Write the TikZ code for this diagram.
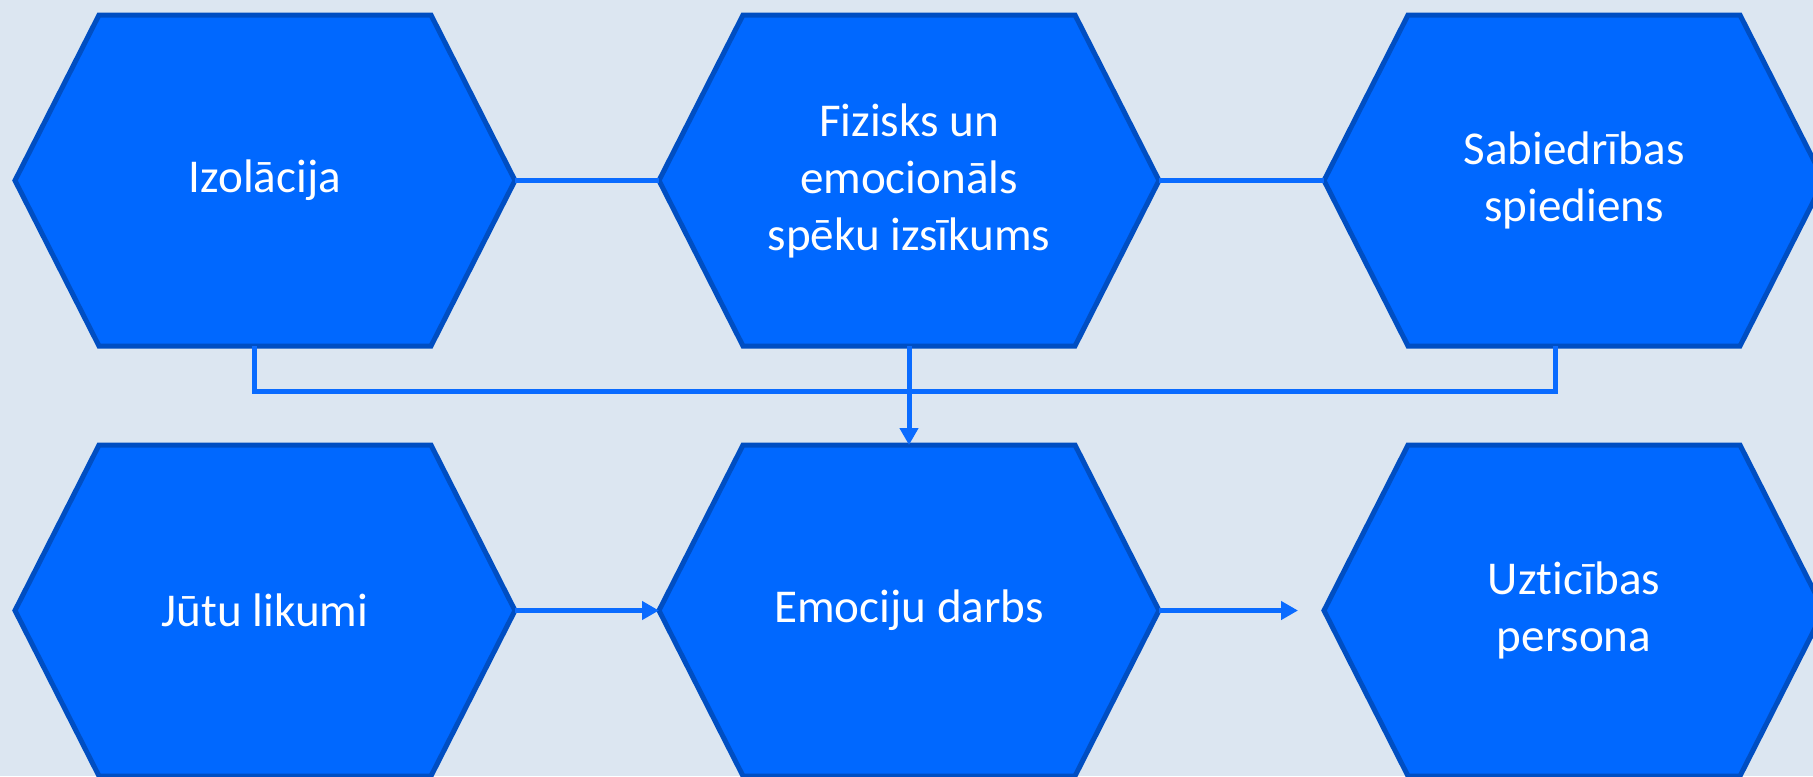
\documentclass[tikz,border=0pt]{standalone}
\usepackage{fontspec}
\setmainfont{Carlito}[Ligatures=CommonOff]
\usetikzlibrary{positioning,backgrounds,arrows.meta}
\definecolor{bgcol}{HTML}{DCE6F1}
\definecolor{hexfill}{HTML}{0068FF}
\definecolor{hexline}{HTML}{004EC2}
\definecolor{linkcol}{HTML}{0A6BFF}

\begin{document}
\begin{tikzpicture}[hexnode/.style={minimum width=5cm, minimum height=3.31cm, inner sep=0pt, outer sep=0pt, align=center, text=white, font=\fontsize{13.4}{16.2}\selectfont},hexshape/.style={fill=hexfill, draw=hexline, line width=0.05cm},link/.style={draw=linkcol, line width=0.05cm},arrowlink/.style={link, -{Triangle[length=0.17cm,width=0.18cm]}}]
\useasboundingbox (0,0) rectangle (18.13,-7.76);
\node[hexnode] (izo) at (2.65,-1.805) {Izolācija};
\node[hexnode, right=1.44cm of izo] (fiz) {Fizisks un\\emocionāls\\spēku izsīkums};
\node[hexnode, right=1.65cm of fiz] (sab) {Sabiedrības\\spiediens};
\node[hexnode, below=0.99cm of izo] (jut) {Jūtu likumi};
\node[hexnode, below=0.99cm of fiz] (emo) {Emociju darbs};
\node[hexnode, below=0.99cm of sab] (uzt) {Uzticības\\persona};
\begin{scope}[on background layer]
\fill[bgcol] (0,0) rectangle (18.13,-7.76);
\foreach \n in {izo,fiz,sab,jut,emo,uzt}
  \draw[hexshape] (\n.west) -- ([xshift=0.84cm]\n.north west) -- ([xshift=-0.84cm]\n.north east) -- (\n.east) -- ([xshift=-0.84cm]\n.south east) -- ([xshift=0.84cm]\n.south west) -- cycle;
\end{scope}
% top row
\draw[link] (izo.east) -- (fiz.west);
\draw[link] (fiz.east) -- (sab.west);
\draw[link] ([xshift=-0.11cm]izo.south) -- ++(0,-0.45) -| ([xshift=-0.185cm]sab.south);
\draw[arrowlink] (fiz.south) -- (emo.north);
% bottom row
\coordinate (gap) at ([xshift=-0.26cm]uzt.west);
\draw[arrowlink] (jut.east) -- (emo.west);
\draw[arrowlink] (emo.east) -- (gap);
\end{tikzpicture}
\end{document}
